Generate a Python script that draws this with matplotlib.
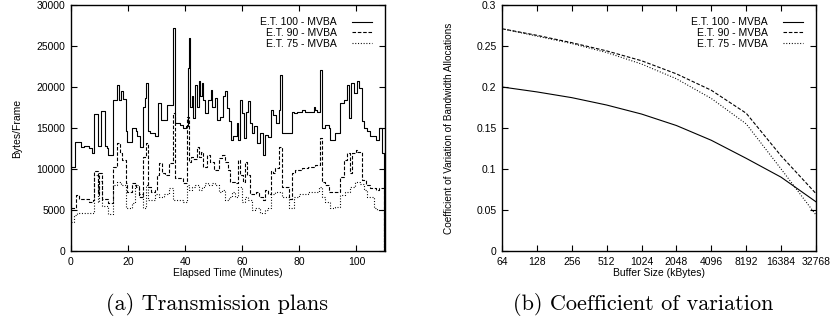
import matplotlib
matplotlib.use("Agg")
import matplotlib.pyplot as plt
import numpy as np

plt.rcParams['font.family'] = ['Liberation Sans', 'DejaVu Sans']

# (a) transmission plans: (minute, bytes/frame) step points
et100 = [(0, 10300), (1.5, 13300), (3.5, 12700), (4.7, 12800), (6.4, 12500), (7.2, 11900),
         (7.9, 16700), (9.3, 12800), (10.5, 17100), (11.9, 12800), (12.6, 12500), (13.0, 11700),
         (14.8, 18400), (16.0, 20200), (16.9, 18400), (17.4, 19500), (18.1, 18500), (19.2, 14600),
         (19.8, 13350), (21.5, 15000), (22.7, 14600), (23.3, 14050), (24.2, 12700), (25.3, 17600),
         (25.8, 18600), (26.2, 20500), (27.1, 14600), (27.7, 14400), (29.3, 14000), (30.5, 18050),
         (31.4, 16000), (33.7, 17850), (35.8, 27250), (36.3, 15600), (38.3, 15400), (39.4, 15000),
         (40.2, 15200), (40.9, 22300), (41.4, 26000), (41.8, 17600), (42.3, 18900), (42.9, 16200),
         (43.5, 20300), (44.1, 17600), (44.7, 20700), (45.2, 18900), (45.8, 20500), (46.4, 18450),
         (47.0, 16800), (47.9, 18450), (49.1, 19650), (49.5, 17600), (50.5, 18600), (51.0, 16000),
         (52.2, 16400), (53.4, 18900), (54.0, 19500), (54.5, 17400), (55.3, 15800), (56.0, 13550),
         (56.9, 14000), (58.0, 15600), (58.6, 13550), (59.2, 18450), (60.0, 16800), (60.7, 13800),
         (61.2, 17000), (62.1, 18250), (62.7, 15600), (63.3, 14400), (64.2, 15200), (65.0, 13150),
         (66.2, 14400), (67.3, 11700), (68.1, 14100), (69.1, 13900), (70.0, 17200), (70.8, 16600),
         (72.0, 15600), (73.0, 17200), (73.4, 21500), (74.0, 14400), (77.4, 17000), (78.0, 16800),
         (79.2, 17000), (80.9, 17200), (82.1, 17000), (85.0, 17600), (85.6, 17200), (86.3, 17000),
         (87.4, 22100), (88.0, 15000), (89.1, 15400), (90.3, 15000), (90.9, 13500), (92.6, 14400),
         (94.4, 18000), (95.6, 18450), (96.7, 20300), (97.5, 16200), (98.0, 20500), (99.1, 19300),
         (100.2, 20700), (100.8, 19900), (102.0, 15800), (102.6, 15000), (103.7, 14600),
         (104.9, 14000), (106.7, 13550), (107.8, 15000), (108.8, 11900), (109.7, 0), (110, 0)]

et90 = [(0, 5200), (1.7, 6800), (2.9, 6400), (4.1, 6300), (6.4, 6000), (7.6, 6200), (8.1, 9700),
        (9.3, 7000), (9.9, 9500), (11.0, 6300), (11.6, 6400), (13.0, 5800), (14.8, 10300),
        (16.3, 13150), (17.2, 11900), (18.0, 11100), (19.2, 8250), (19.8, 7200), (21.5, 8250),
        (22.7, 7800), (23.8, 6600), (25.3, 11500), (26.2, 13150), (27.1, 7800), (27.9, 7200),
        (29.3, 7400), (30.2, 9300), (30.8, 10700), (32.0, 9500), (33.1, 9300), (34.3, 10700),
        (35.8, 16800), (36.3, 8900), (39.4, 8250), (40.8, 16300), (41.4, 10900), (42.1, 11500),
        (42.9, 11200), (44.1, 12700), (44.9, 11500), (45.6, 12100), (46.4, 10300), (47.6, 11700),
        (48.7, 10900), (50.0, 9900), (51.7, 11300), (52.8, 11700), (54.0, 10900), (54.9, 9900),
        (55.8, 8450), (57.6, 8250), (58.6, 11100), (59.1, 9300), (60.1, 8450), (60.9, 10900),
        (61.8, 9300), (62.8, 7000), (64.9, 7200), (66.0, 6600), (67.2, 6200), (68.0, 7400),
        (69.1, 7000), (70.0, 9700), (70.8, 9500), (71.6, 10100), (72.8, 12700), (73.9, 7850),
        (76.3, 6400), (77.4, 9500), (78.6, 9900), (80.9, 10100), (83.2, 10300), (85.6, 10500),
        (87.4, 13800), (88.0, 8450), (89.1, 8000), (90.3, 7200), (94.4, 9000), (95.6, 11100),
        (96.7, 11900), (97.8, 9500), (98.4, 11900), (99.7, 12300), (100.2, 12100), (102.0, 8650),
        (103.2, 8000), (104.9, 7650), (106.7, 7400), (107.8, 7650), (109.7, 0), (110, 0)]

et75 = [(0, 3500), (1.0, 4400), (2.0, 4650), (7.5, 4600), (8.1, 9300), (9.3, 6000), (9.9, 8500),
        (11.0, 5500), (12.9, 4500), (14.8, 8000), (16.3, 8450), (17.4, 8000), (19.2, 5200),
        (21.5, 5800), (22.3, 8000), (23.8, 7000), (25.3, 5200), (26.2, 8000), (27.1, 6200),
        (29.3, 7000), (30.8, 6600), (32.5, 7000), (34.3, 7650), (35.8, 6200), (39.4, 6000),
        (40.6, 8000), (41.2, 7400), (42.3, 7850), (43.5, 8050), (44.7, 7400), (45.8, 7850),
        (47.0, 8250), (48.1, 8050), (49.3, 8250), (50.5, 8050), (51.7, 7200), (52.8, 7400),
        (54.0, 6200), (55.2, 6600), (56.3, 7200), (57.4, 6600), (58.6, 7850), (59.8, 6000),
        (60.9, 6600), (62.1, 6200), (63.3, 5000), (64.4, 5200), (66.2, 4600), (67.9, 5000),
        (69.1, 5200), (70.2, 7000), (71.4, 7200), (73.9, 6600), (76.3, 5200), (78.0, 6600),
        (79.8, 7000), (83.0, 7200), (86.8, 7850), (88.0, 6600), (89.1, 6000), (90.9, 5200),
        (92.6, 5400), (94.4, 6800), (96.1, 7200), (97.8, 7850), (99.5, 8450), (101.3, 8200),
        (102.6, 7400), (103.7, 6600), (106.1, 5200), (107.2, 5000), (109.7, 0), (110, 0)]

# (b) coefficient of variation vs buffer size
buffer_kb = [64, 128, 256, 512, 1024, 2048, 4096, 8192, 16384, 32768]
cov_100 = [0.200, 0.194, 0.187, 0.178, 0.167, 0.153, 0.135, 0.113, 0.090, 0.060]
cov_90 = [0.271, 0.263, 0.254, 0.244, 0.232, 0.216, 0.196, 0.168, 0.116, 0.070]
cov_75 = [0.271, 0.262, 0.253, 0.242, 0.228, 0.210, 0.186, 0.155, 0.100, 0.044]

labels = ['E.T. 100 - MVBA', 'E.T. 90 - MVBA', 'E.T. 75 - MVBA']
styles = ['-', (0, (3.2, 1.6)), (0, (0.9, 1.6))]

fig = plt.figure(figsize=(8.3, 3.25), dpi=100)
ax1 = fig.add_axes([0.0855, 0.2277, 0.3783, 0.757])
ax2 = fig.add_axes([0.6048, 0.2277, 0.3783, 0.757])

for data, lab, ls in zip([et100, et90, et75], labels, styles):
    t, v = zip(*data)
    ax1.step(t, v, where='post', color='black', lw=0.8, ls=ls, label=lab)

for vals, lab, ls in zip([cov_100, cov_90, cov_75], labels, styles):
    ax2.plot(buffer_kb, vals, color='black', lw=0.8, ls=ls, label=lab)

ax1.set_xlim(0, 110)
ax1.set_ylim(0, 30000)
ax1.set_xticks([0, 20, 40, 60, 80, 100])
ax1.set_yticks(np.arange(0, 30001, 5000))
ax1.set_xlabel('Elapsed Time (Minutes)', fontsize=7.5, labelpad=1)
ax1.set_ylabel('Bytes/Frame', fontsize=7.5, labelpad=10.5)

ax2.set_xscale('log', base=2)
ax2.set_xlim(64, 32768)
ax2.set_ylim(0, 0.3)
ax2.set_xticks(buffer_kb)
ax2.set_xticklabels([str(b) for b in buffer_kb])
ax2.minorticks_off()
ax2.set_yticks([0, 0.05, 0.1, 0.15, 0.2, 0.25, 0.3])
ax2.set_yticklabels(['0', '0.05', '0.1', '0.15', '0.2', '0.25', '0.3'])
ax2.set_xlabel('Buffer Size (kBytes)', fontsize=7.5, labelpad=1)
ax2.set_ylabel('Coefficient of Variation of Bandwidth Allocations', fontsize=7.2, labelpad=16)

for ax in (ax1, ax2):
    ax.tick_params(direction='in', top=True, right=True, length=4, width=0.8,
                   labelsize=7.5, pad=4)
    for s in ax.spines.values():
        s.set_linewidth(1.0)
    ax.legend(loc='upper right', frameon=False, markerfirst=False, fontsize=7.5,
              handlelength=2.0, handletextpad=1.4, labelspacing=0.05,
              borderaxespad=0.8)

fig.text(0.262, 0.045, '(a) Transmission plans', fontsize=16, family='cmr10',
         ha='center', va='baseline')
fig.text(0.775, 0.045, '(b) Coefficient of variation', fontsize=16, family='cmr10',
         ha='center', va='baseline')

fig.savefig('out.png', dpi=100)
